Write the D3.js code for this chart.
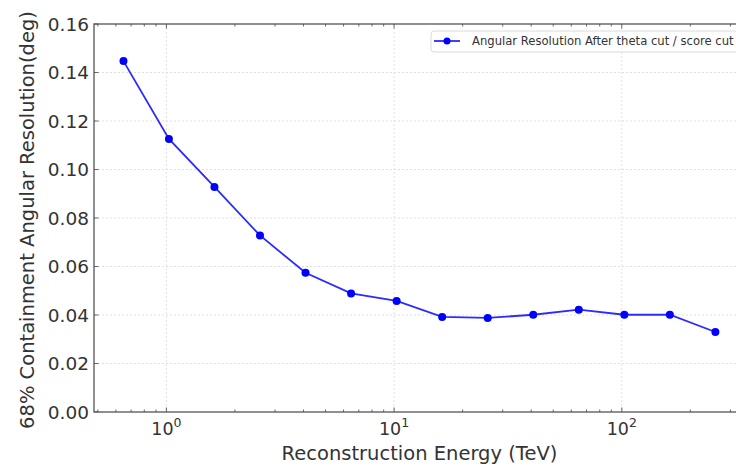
<!DOCTYPE html>
<html>
<head>
<meta charset="utf-8">
<script src="https://cdn.jsdelivr.net/npm/d3@7"></script>
<style>
    body { margin: 0; background: #fff; }
    text { font-family: "DejaVu Sans", sans-serif; fill: #333; }
</style>
</head>
<body>
<div id="chart"></div>
<script>

let energy = [0.648, 1.026, 1.626, 2.577, 4.084, 6.473, 10.26, 16.26, 25.77, 40.84, 64.73, 102.6, 162.6, 257.7]

let resolution = [0.1447, 0.1126, 0.0928, 0.0728, 0.0574, 0.0489, 0.0458, 0.0392, 0.0388, 0.0401, 0.0422, 0.0401, 0.0401, 0.0330]

let yTicks = [0, 0.02, 0.04, 0.06, 0.08, 0.10, 0.12, 0.14, 0.16]

let xTicks = [1, 10, 100]

let xTickExp = ['0', '1', '2']

let legendLabel = 'Angular Resolution After theta cut / score cut'

let xLabel = 'Reconstruction Energy (TeV)'

let yLabel = '68% Containment Angular Resolution(deg)'

function drawChart(){

    let width = 736,
        height = 466

    let svg = d3.select('#chart').append('svg')
        .attr('width', width)
        .attr('height', height)

    let left = 94, right = 745, top = 24, bottom = 412

    let x = d3.scaleLog().domain([0.481, 347.6]).range([left, right])

    let y = d3.scaleLinear().domain([0, 0.16]).range([bottom, top])

    let points = energy.map(function(e, i){
        return {'e': e, 'v': resolution[i]}
    })

    // grid
    let grid = svg.append('g')

    grid.selectAll('.xgrid')
        .data(xTicks)
        .enter()
        .append('line')
        .attr('x1', d => x(d))
        .attr('x2', d => x(d))
        .attr('y1', top)
        .attr('y2', bottom)
        .attr('stroke', '#d8d8d8')
        .attr('stroke-width', 0.8)
        .attr('stroke-dasharray', '2,2')

    grid.selectAll('.ygrid')
        .data(yTicks.slice(1, -1))
        .enter()
        .append('line')
        .attr('x1', left)
        .attr('x2', right)
        .attr('y1', d => y(d))
        .attr('y2', d => y(d))
        .attr('stroke', '#d8d8d8')
        .attr('stroke-width', 0.8)
        .attr('stroke-dasharray', '2,2')

    // log ticks, major and minor, pointing inward
    let minor = x.ticks()

    let ticks = svg.append('g')

    ticks.selectAll('.xminor_b')
        .data(minor)
        .enter()
        .append('line')
        .attr('x1', d => x(d))
        .attr('x2', d => x(d))
        .attr('y1', bottom)
        .attr('y2', d => xTicks.indexOf(d) >= 0 ? bottom - 4.5 : bottom - 2.5)
        .attr('stroke', '#555')
        .attr('stroke-width', 0.9)

    ticks.selectAll('.xminor_t')
        .data(minor)
        .enter()
        .append('line')
        .attr('x1', d => x(d))
        .attr('x2', d => x(d))
        .attr('y1', top)
        .attr('y2', d => xTicks.indexOf(d) >= 0 ? top + 4.5 : top + 2.5)
        .attr('stroke', '#555')
        .attr('stroke-width', 0.9)

    ticks.selectAll('.ytick')
        .data(yTicks)
        .enter()
        .append('line')
        .attr('x1', left)
        .attr('x2', left + 4.5)
        .attr('y1', d => y(d))
        .attr('y2', d => y(d))
        .attr('stroke', '#555')
        .attr('stroke-width', 0.9)

    // spines
    svg.append('rect')
        .attr('x', left)
        .attr('y', top)
        .attr('width', right - left)
        .attr('height', bottom - top)
        .attr('fill', 'none')
        .attr('stroke', '#555')
        .attr('stroke-width', 1.3)

    // tick labels
    svg.append('g')
        .selectAll('.ylab')
        .data(yTicks)
        .enter()
        .append('text')
        .attr('x', left - 5)
        .attr('y', d => y(d))
        .attr('dy', '0.36em')
        .attr('text-anchor', 'end')
        .attr('font-size', 18.5)
        .text(d => d3.format('.2f')(d))

    let xl = svg.append('g')
        .selectAll('.xlab')
        .data(xTicks)
        .enter()
        .append('text')
        .attr('x', d => x(d))
        .attr('y', 435)
        .attr('text-anchor', 'middle')
        .attr('font-size', 17.5)

    xl.append('tspan').text('10')

    xl.append('tspan')
        .attr('dy', -8)
        .attr('font-size', 12.5)
        .text((d, i) => xTickExp[i])

    // axis labels
    svg.append('text')
        .attr('x', (left + right) / 2)
        .attr('y', 460)
        .attr('text-anchor', 'middle')
        .attr('font-size', 19.5)
        .text(xLabel)

    svg.append('text')
        .attr('transform', 'translate(34,' + ((top + bottom) / 2 + 2) + ') rotate(-90)')
        .attr('text-anchor', 'middle')
        .attr('font-size', 19.5)
        .text(yLabel)

    // series
    let drawer = d3.line()
        .x(d => x(d.e))
        .y(d => y(d.v))

    svg.append('path')
        .datum(points)
        .attr('d', drawer)
        .attr('fill', 'none')
        .attr('stroke', '#2b2bff')
        .attr('stroke-width', 1.8)

    svg.append('g')
        .selectAll('.dot')
        .data(points)
        .enter()
        .append('circle')
        .attr('cx', d => x(d.e))
        .attr('cy', d => y(d.v))
        .attr('r', 4)
        .attr('fill', '#0000ff')

    // legend
    let legend = svg.append('g')

    legend.append('rect')
        .attr('x', 431)
        .attr('y', 31)
        .attr('width', 340)
        .attr('height', 21)
        .attr('rx', 3)
        .attr('fill', '#fff')
        .attr('fill-opacity', 0.85)
        .attr('stroke', '#d6d6d6')
        .attr('stroke-width', 0.9)

    legend.append('line')
        .attr('x1', 434)
        .attr('x2', 460)
        .attr('y1', 41)
        .attr('y2', 41)
        .attr('stroke', '#2b2bff')
        .attr('stroke-width', 1.8)

    legend.append('circle')
        .attr('cx', 447)
        .attr('cy', 41)
        .attr('r', 3.5)
        .attr('fill', '#0000ff')

    legend.append('text')
        .attr('x', 472)
        .attr('y', 45)
        .attr('font-size', 11.6)
        .text(legendLabel)
}

drawChart()
</script>
</body>
</html>
